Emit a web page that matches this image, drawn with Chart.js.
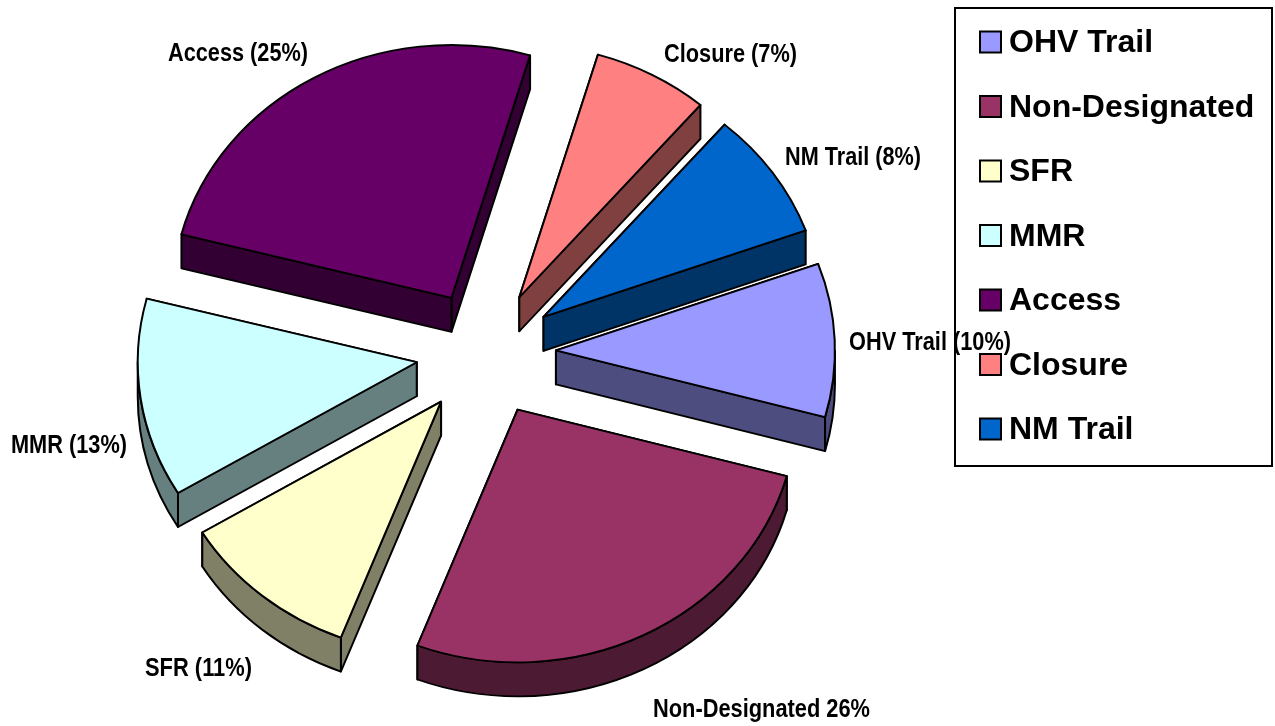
<!DOCTYPE html>
<html>
<head>
<meta charset="utf-8">
<title>Road and trail mix</title>
<script src="https://cdn.jsdelivr.net/npm/chart.js@4/dist/chart.umd.min.js"></script>
<style>
  html, body { margin: 0; padding: 0; background: #fff; }
  canvas { display: block; }
</style>
</head>
<body>
<canvas id="myChart" width="1275" height="726"></canvas>
<script>
const categories = ['OHV Trail', 'Non-Designated', 'SFR', 'MMR', 'Access', 'Closure', 'NM Trail']
// slice sizes, the printed labels are rounded
const shares = [9.8, 26.6, 10.5, 12.7, 25.5, 6.7, 8.2]
const pieLabels = ['OHV Trail (10%)', 'Non-Designated 26%', 'SFR (11%)', 'MMR (13%)', 'Access (25%)', 'Closure (7%)', 'NM Trail (8%)']
const topColors = ['#9999FF', '#993366', '#FFFFCC', '#CCFFFF', '#660066', '#FF8080', '#0066CC']
const sideColors = ['#4D4D80', '#4D1A33', '#808066', '#668080', '#330033', '#804040', '#003366']

// look of the tilted pie
const pieCenter = { x: 486, y: 353 }
const squash = 0.906
const explode = 70
const depth = 34
const drawOrder = [4, 5, 6, 0, 3, 2, 1]

// x, y (middle of text), width
const labelBoxes = [
    [849, 343, 162], [653, 710, 217], [145, 669, 107], [11, 446, 116],
    [168, 54, 140], [664, 55, 133], [785, 158, 136]
]
const legendFrame = { x: 955, y: 8, w: 317, h: 458 }

const tiltedPie = {
    id: 'tiltedPie',
    beforeDatasetsDraw(chart) {
        const ctx = chart.ctx
        const arcs = chart.getDatasetMeta(0).data
        for (let i of drawOrder) {
            const arc = arcs[i]
            const mid = (arc.startAngle + arc.endAngle) / 2
            const r = arc.outerRadius
            const d = depth / squash
            ctx.save()
            ctx.translate(pieCenter.x + Math.cos(mid) * explode, pieCenter.y + Math.sin(mid) * explode * squash)
            ctx.scale(1, squash)
            ctx.translate(-arc.x, -arc.y)
            ctx.lineWidth = 2
            ctx.lineJoin = 'round'
            ctx.strokeStyle = '#000'
            ctx.fillStyle = sideColors[i]

            // cut faces, the one further back goes first
            const faces = [arc.startAngle, arc.endAngle].sort((a, b) => Math.sin(a) - Math.sin(b))
            for (let a of faces) {
                const px = arc.x + Math.cos(a) * r
                const py = arc.y + Math.sin(a) * r
                ctx.beginPath()
                ctx.moveTo(arc.x, arc.y)
                ctx.lineTo(px, py)
                ctx.lineTo(px, py + d)
                ctx.lineTo(arc.x, arc.y + d)
                ctx.closePath()
                ctx.fill()
                ctx.stroke()
            }

            // rim, only the front half of the circle shows
            for (let k of [-2, 0, 2]) {
                const from = Math.max(arc.startAngle, k * Math.PI)
                const to = Math.min(arc.endAngle, (k + 1) * Math.PI)
                if (to <= from) continue
                ctx.beginPath()
                ctx.arc(arc.x, arc.y, r, from, to)
                ctx.arc(arc.x, arc.y + d, r, to, from, true)
                ctx.closePath()
                ctx.fill()
                ctx.stroke()
            }

            arc.draw(ctx)
            ctx.restore()
        }
        return false
    },
    afterDraw(chart) {
        const ctx = chart.ctx
        ctx.save()
        ctx.fillStyle = '#000'
        ctx.textBaseline = 'middle'
        ctx.textAlign = 'left'
        ctx.font = 'bold 25px "Liberation Sans", Arial, sans-serif'
        pieLabels.forEach((t, i) => {
            ctx.fillText(t, labelBoxes[i][0], labelBoxes[i][1], labelBoxes[i][2])
        })

        ctx.strokeStyle = '#000'
        ctx.lineWidth = 2
        ctx.strokeRect(legendFrame.x, legendFrame.y, legendFrame.w, legendFrame.h)
        ctx.font = 'bold 32px "Liberation Sans", Arial, sans-serif'
        categories.forEach((t, i) => {
            const y = 42 + i * 64.5
            ctx.fillStyle = topColors[i]
            ctx.fillRect(980, y - 10.5, 21, 21)
            ctx.strokeRect(980, y - 10.5, 21, 21)
            ctx.fillStyle = '#000'
            ctx.fillText(t, 1009, y + 1.5)
        })
        ctx.restore()
    }
}

new Chart(document.getElementById('myChart'), {
    type: 'pie',
    data: {
        labels: categories,
        datasets: [{
            data: shares,
            backgroundColor: topColors,
            borderColor: '#000',
            borderWidth: 2,
            borderJoinStyle: 'round'
        }]
    },
    options: {
        responsive: false,
        animation: false,
        rotation: 70,
        radius: 279,
        plugins: {
            legend: { display: false },
            tooltip: { enabled: false }
        }
    },
    plugins: [tiltedPie]
})
</script>
</body>
</html>
